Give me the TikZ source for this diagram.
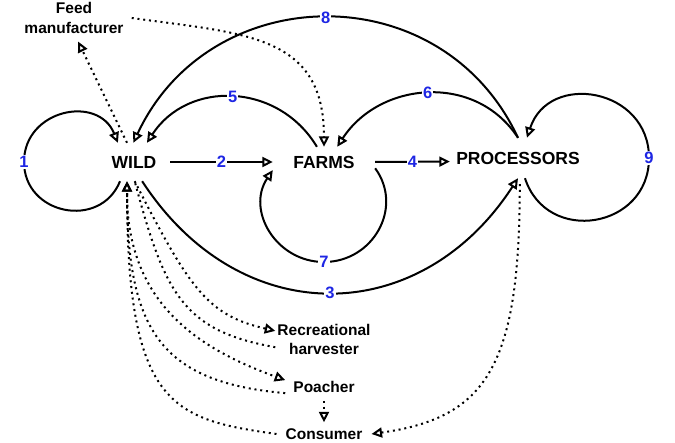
\documentclass[tikz,border=0pt]{standalone}
\usepackage{fontspec}
\setmainfont{Liberation Sans}
\usetikzlibrary{arrows.meta}
\definecolor{numblue}{RGB}{30,38,228}

\begin{document}
\begin{tikzpicture}[x=1pt, y=1pt, node distance=190pt,
  sector/.style={font=\fontsize{17.5}{21}\selectfont\bfseries, inner sep=0pt},
  actor/.style={font=\fontsize{15.5}{19.5}\selectfont\bfseries, align=center},
  num/.style={font=\fontsize{16.5}{18}\selectfont\bfseries, text=numblue, fill=white, inner sep=1pt},
  flow/.style={line width=2pt, -{Triangle[open, length=10.5pt, width=10pt]}},
  link/.style={flow, dash pattern=on 2pt off 3.8pt}]
\useasboundingbox (0,0) rectangle (675,443);
\node[sector, minimum width=72pt, minimum height=38pt] (wild) at (134,281) {WILD};
\node[sector, minimum width=102pt, minimum height=30pt] (farms) [right of=wild] {FARMS};
\node[sector, minimum width=136pt, minimum height=40pt, node distance=194pt, yshift=4pt] (processors) [right of=farms] {PROCESSORS};
\node[actor, inner sep=8pt] (feed) at (74,425) {Feed\\manufacturer};
\node[actor, inner sep=2pt, node distance=177.5pt] (harvester) [below of=farms] {Recreational\\harvester};
\node[actor, inner sep=8pt, node distance=47.5pt] (poacher) [below of=harvester] {Poacher};
\node[actor, inner xsep=9pt, inner ysep=6pt, node distance=47pt] (consumer) [below of=poacher] {Consumer};

\draw[flow] (wild.east) -- node[num] {2} (farms.west);
\draw[flow] (farms.east) -- node[num] {4} (processors.183);
\draw[flow] (wild.293) to[out=-57, in=-123, looseness=1.22] node[num] {3} (processors.south);
\draw[flow] (farms.115) to[out=121, in=57, looseness=1.13] node[num] {5} (wild.56);
\draw[flow] (processors.north) to[out=123, in=57, looseness=1.1] node[num] {6} (farms.49);
\draw[flow] (processors.north) to[out=115, in=65, looseness=1.2] node[num] {8} (wild.92);
\draw[flow] (wild.234) to[out=-112, in=-90, looseness=1.38] (24,281) node[num] {1} to[out=90, in=112, looseness=1.4] (wild.130);
\draw[flow] (farms.-7) to[out=-54, in=0, looseness=1.17] (324,181) node[num] {7} to[out=180, in=-124, looseness=1.17] (farms.189);
\draw[flow] (processors.289) to[out=-72, in=-90, looseness=1.44] (649,285) node[num] {9} to[out=90, in=72, looseness=1.45] (processors.66);

\draw[link] (wild.110) -- (feed.-80);
\draw[link] (feed.east) to[out=-8, in=90, looseness=1.25] (farms.north);
\draw[link] (wild.272) to[out=-63, in=167, out distance=122pt, in distance=69pt] (harvester.170);
\draw[link, -] (harvester.189) to[out=170, in=-75, out distance=94pt, in distance=116pt] (wild.272);
\draw[link, shorten <=12pt] (wild.250) to[out=-90, in=160, out distance=125pt, in distance=88pt] (poacher.170);
\draw[link] (poacher.189) to[out=175, in=-90, out distance=127pt, in distance=147pt] (wild.250);
\draw[link] (consumer.west) to[out=172, in=-90, out distance=105pt, in distance=225pt] (wild.250);
\draw[link] (poacher.south) -- (consumer.north);
\draw[link, shorten <=6pt] (processors.275) to[out=-90, in=8, out distance=187pt, in distance=117pt] (consumer.east);
\end{tikzpicture}
\end{document}
